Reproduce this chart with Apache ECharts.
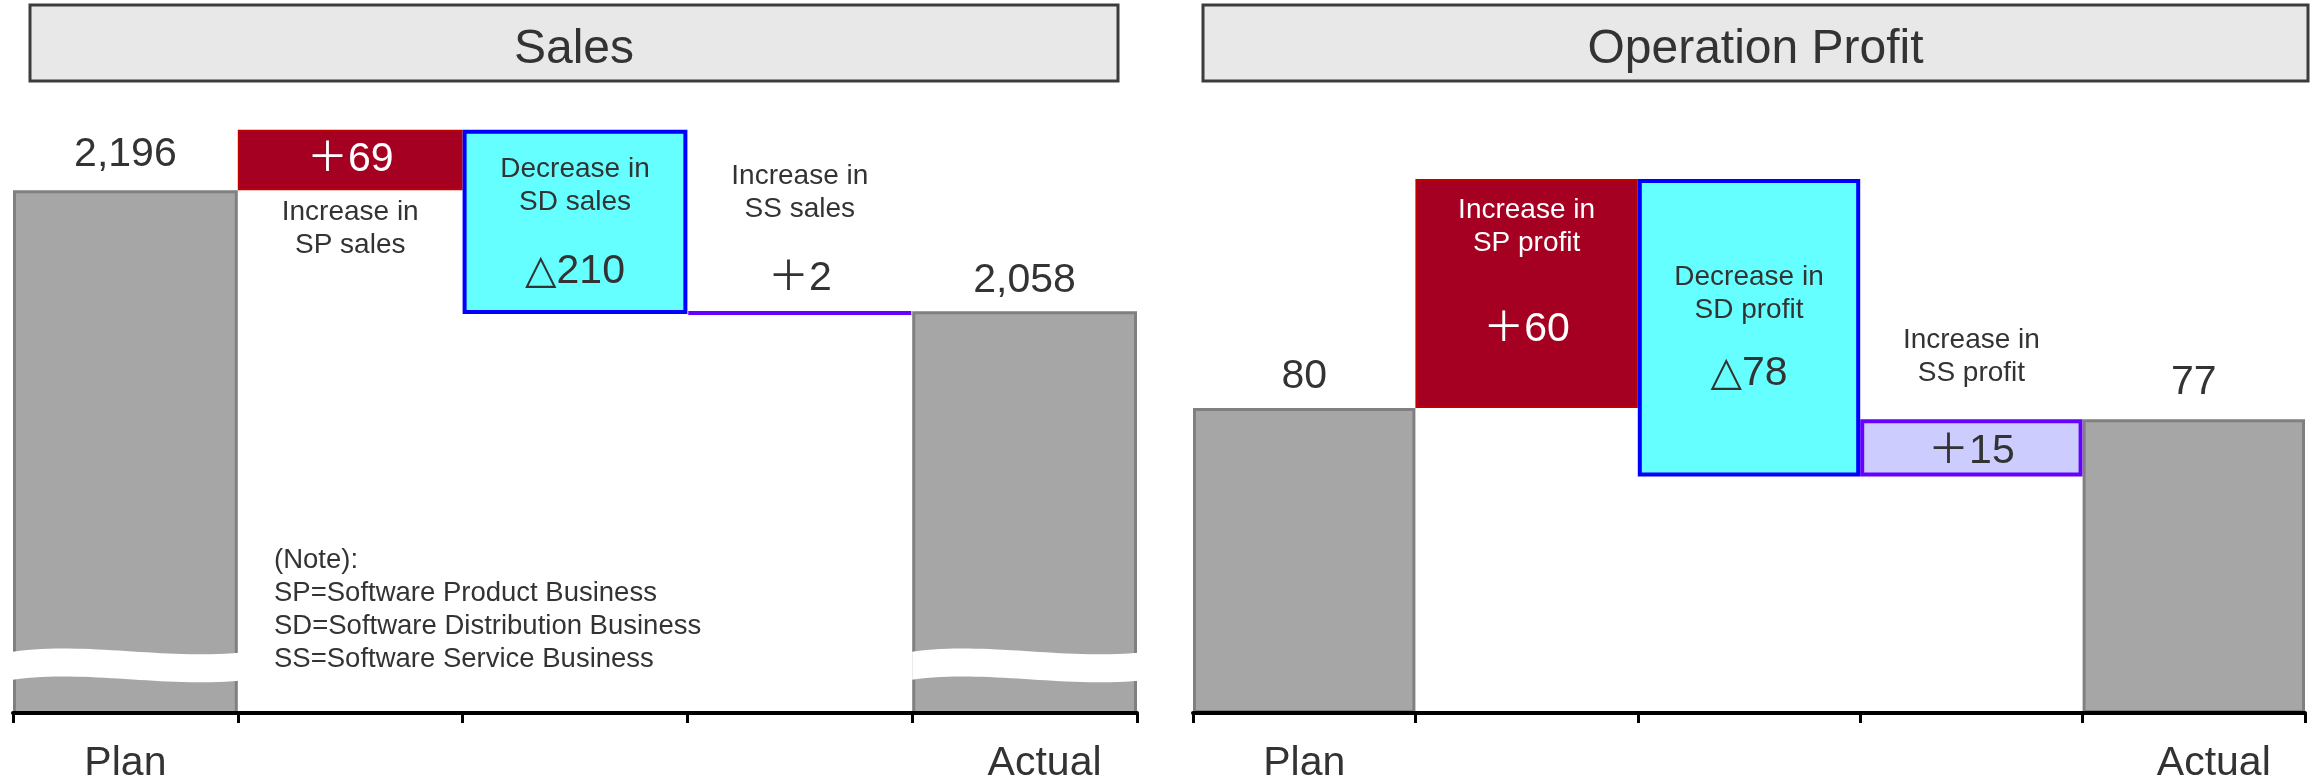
<!DOCTYPE html>
<html>
<head>
<meta charset="utf-8">
<script src="https://cdn.jsdelivr.net/npm/echarts/dist/echarts.min.js"></script>
<style>
  html, body { margin: 0; padding: 0; background: #ffffff; }
  #chart { width: 2315px; height: 782px; }
</style>
</head>
<body>
<div id="chart"></div>
<script>
// ---- data ----
const categories = ['Plan', '', '', '', 'Actual'];
const panelTitles = ['Sales', 'Operation Profit'];

const salesPlan = 2196;
const salesChanges = [69, -210, 2];
const salesActual = 2058;
const salesNotes = ['Increase in\nSP sales', 'Decrease in\nSD sales', 'Increase in\nSS sales'];

const profitPlan = 80;
const profitChanges = [60, -78, 15];
const profitActual = 77;
const profitNotes = ['Increase in\nSP profit', 'Decrease in\nSD profit', 'Increase in\nSS profit'];

const noteLines = [
  '(Note):',
  'SP=Software Product Business',
  'SD=Software Distribution Business',
  'SS=Software Service Business'
];

// ---- styling ----
const FONT = "'Liberation Sans', Arial, 'DejaVu Sans', 'Noto Sans CJK JP', sans-serif";
const INK = '#333333';
const VALUE_SIZE = 41;
const NOTE_SIZE = 28;
const GRAY = { color: '#A6A6A6', borderColor: '#808080', borderWidth: 3 };
const UP = { color: '#A50021', borderColor: '#C00000', borderWidth: 2 };
const DOWN = { color: '#66FFFF', borderColor: '#0000FF', borderWidth: 4 };
const SMALL_UP = { color: '#CCCCFF', borderColor: '#6600FF', borderWidth: 4 };
const changeStyles = [UP, DOWN, SMALL_UP];

// the sales axis starts well above zero; a wavy band marks the cut
const SALES_MIN = 1600, SALES_MAX = 2300;
const PROFIT_MIN = 0, PROFIT_MAX = 161;
const SALES_BREAK_AT = 1654;

function changeText(d) { return (d >= 0 ? '\uFF0B' : '\u25B3') + Math.abs(d); }
function totalText(v) { return v.toLocaleString('en-US'); }

// invisible offsets + visible pieces for a bridge chart
function waterfall(plan, changes, actual) {
  const base = [0], size = [plan];
  let level = plan;
  changes.forEach(d => {
    const next = level + d;
    base.push(Math.min(level, next));
    size.push(Math.abs(d));
    level = next;
  });
  base.push(0);
  size.push(actual);
  return { base, size };
}

function totalLabel(v, distance) {
  return {
    show: true, position: 'top', distance: distance,
    formatter: totalText(v),
    fontFamily: FONT, fontSize: VALUE_SIZE, lineHeight: 44, color: INK, textBorderWidth: 0
  };
}

function stackedLabel(note, change, o) {
  const lines = note.split('\n').map(t => '{d|' + t + '}');
  return {
    show: true, position: o.position, distance: o.distance, textBorderWidth: 0,
    formatter: lines.join('\n') + '\n{g| }\n{v|' + changeText(change) + '}',
    rich: {
      d: { fontFamily: FONT, fontSize: NOTE_SIZE, lineHeight: 33, color: o.color, align: 'center' },
      g: { fontSize: 1, lineHeight: o.gap },
      v: { fontFamily: FONT, fontSize: VALUE_SIZE, lineHeight: 44, color: o.color, align: 'center' }
    }
  };
}

function plainLabel(text, o) {
  return {
    show: true, position: o.position, distance: o.distance || 5, textBorderWidth: 0,
    formatter: text, fontFamily: FONT, fontSize: o.fontSize, lineHeight: o.lineHeight,
    color: o.color
  };
}

function buildPanel(idx, plan, changes, actual, labelFor, baseLabelFor) {
  const wf = waterfall(plan, changes, actual);
  const main = wf.size.map((v, i) => {
    let style = GRAY;
    if (i > 0 && i < 4) style = changeStyles[i - 1];
    return { value: v, itemStyle: style, label: labelFor(i) };
  });
  const base = wf.base.map((v, i) => {
    const lab = baseLabelFor ? baseLabelFor(i) : null;
    return lab ? { value: v, label: lab } : v;
  });
  return [
    {
      type: 'bar', stack: 'bridge' + idx, xAxisIndex: idx, yAxisIndex: idx,
      barWidth: '100%', clip: true, silent: true,
      itemStyle: { color: 'rgba(0,0,0,0)', borderWidth: 0 },
      data: base
    },
    {
      type: 'bar', stack: 'bridge' + idx, xAxisIndex: idx, yAxisIndex: idx,
      barWidth: '100%', clip: true,
      data: main
    }
  ];
}

const salesSeries = buildPanel(0, salesPlan, salesChanges, salesActual,
  i => {
    if (i === 0) return totalLabel(salesPlan, 14);
    if (i === 4) return totalLabel(salesActual, 9);
    if (i === 1) return plainLabel(changeText(salesChanges[0]),
      { position: 'inside', fontSize: VALUE_SIZE, lineHeight: 44, color: '#ffffff' });
    if (i === 2) return stackedLabel(salesNotes[1], salesChanges[1],
      { position: 'insideTop', distance: 23, gap: 31, color: INK });
    return stackedLabel(salesNotes[2], salesChanges[2],
      { position: 'top', distance: 10, gap: 31, color: INK });
  },
  i => i === 1 ? plainLabel(salesNotes[0],
      { position: 'insideTop', distance: 6, fontSize: NOTE_SIZE, lineHeight: 33, color: INK }) : null
);

const profitSeries = buildPanel(1, profitPlan, profitChanges, profitActual,
  i => {
    if (i === 0) return totalLabel(profitPlan, 9);
    if (i === 4) return totalLabel(profitActual, 15);
    if (i === 1) return stackedLabel(profitNotes[0], profitChanges[0],
      { position: 'insideTop', distance: 15, gap: 48, color: '#ffffff' });
    if (i === 2) return stackedLabel(profitNotes[1], profitChanges[1],
      { position: 'insideTop', distance: 82, gap: 25, color: INK });
    return stackedLabel(profitNotes[2], profitChanges[2],
      { position: 'insideBottom', distance: 3, gap: 39.5, color: INK });
  },
  null
);

// white wavy band across the Plan / Actual sales bars
function bez(p0, p1, p2, p3, t) {
  const u = 1 - t;
  return u * u * u * p0 + 3 * u * u * t * p1 + 3 * u * t * t * p2 + t * t * t * p3;
}
const breakSeries = {
  type: 'custom', xAxisIndex: 0, yAxisIndex: 0, z: 3, silent: true,
  data: [[0, SALES_BREAK_AT], [4, SALES_BREAK_AT]],
  renderItem(params, api) {
    const c = api.coord([api.value(0), api.value(1)]);
    const w = api.size([1, 0])[0] + 2;
    const x0 = c[0] - w / 2 + 1, yc = c[1];
    const top = [], bottom = [];
    for (let k = 0; k <= 32; k++) {
      const t = k / 32;
      const x = x0 + w * bez(0, 0.33, 0.66, 1, t);
      const y = yc + bez(-14, -24, -6, -13, t);
      top.push([x, y]);
      bottom.unshift([x, y + 28]);
    }
    return { type: 'polygon', shape: { points: top.concat(bottom) }, style: { fill: '#ffffff' } };
  }
};

function xAxisFor(gridIndex) {
  return {
    type: 'category', gridIndex, data: categories, z: 10,
    axisLine: { show: true, lineStyle: { color: '#000000', width: 4 } },
    axisTick: { show: true, interval: 0, length: 10, lineStyle: { color: '#000000', width: 3 } },
    axisLabel: {
      interval: 0, hideOverlap: false,
      margin: 29, fontFamily: FONT, fontSize: VALUE_SIZE, lineHeight: 44, color: INK,
      formatter: v => v === 'Actual' ? '{a|' + v + '}' : v,
      rich: { a: { fontFamily: FONT, fontSize: VALUE_SIZE, lineHeight: 44, color: INK, padding: [0, 0, 0, 40] } }
    },
    splitLine: { show: false }
  };
}

function titleBox(x, w, text) {
  return [
    {
      type: 'rect', z: 1,
      shape: { x: x, y: 5, width: w, height: 76 },
      style: { fill: '#E8E8E8', stroke: '#3C3C3C', lineWidth: 3 }
    },
    {
      type: 'text', z: 2, x: x + w / 2, y: 50,
      style: {
        text: text, fontFamily: FONT, fontSize: 48, fill: INK,
        align: 'center', verticalAlign: 'middle',
        textAlign: 'center', textVerticalAlign: 'middle'
      }
    }
  ];
}

const option = {
  animation: false,
  backgroundColor: '#ffffff',
  grid: [
    { left: 13, right: 1178, top: 99, bottom: 69, outerBoundsMode: 'none', containLabel: false },
    { left: 1193, right: 10, top: 99, bottom: 69, outerBoundsMode: 'none', containLabel: false }
  ],
  xAxis: [xAxisFor(0), xAxisFor(1)],
  yAxis: [
    { type: 'value', gridIndex: 0, min: SALES_MIN, max: SALES_MAX, show: false, splitLine: { show: false } },
    { type: 'value', gridIndex: 1, min: PROFIT_MIN, max: PROFIT_MAX, show: false, splitLine: { show: false } }
  ],
  graphic: [
    ...titleBox(30, 1088, panelTitles[0]),
    ...titleBox(1203, 1105, panelTitles[1]),
    {
      type: 'text', z: 5, x: 274, y: 544,
      style: {
        text: noteLines.join('\n'), fontFamily: FONT, fontSize: 27.5, lineHeight: 33, fill: INK,
        align: 'left', verticalAlign: 'top', textAlign: 'left', textVerticalAlign: 'top'
      }
    }
  ],
  series: [...salesSeries, ...profitSeries, breakSeries]
};

const chart = echarts.init(document.getElementById('chart'), null, { renderer: 'canvas' });
chart.setOption(option);
</script>
</body>
</html>
